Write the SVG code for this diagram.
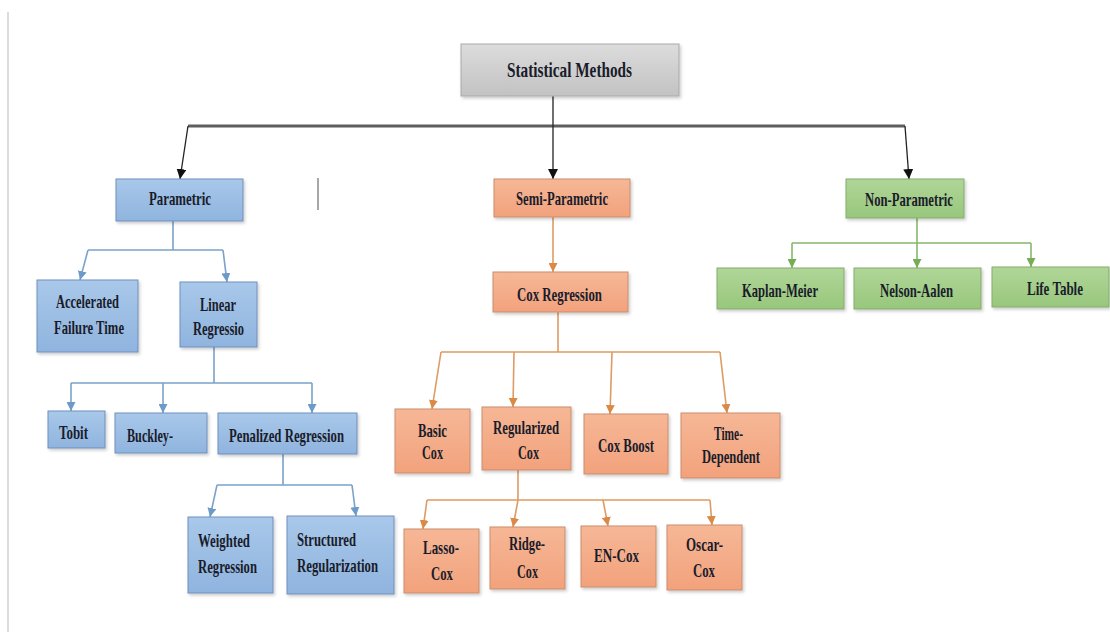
<svg xmlns="http://www.w3.org/2000/svg" width="1110" height="632" viewBox="0 0 1110 632">
<style>
.t{font-family:"Liberation Serif","Times New Roman",serif;font-weight:bold;font-size:19px;fill:#1a1c2b;text-anchor:middle}
.gy{fill:url(#gGray);stroke:#a9a9a9;stroke-width:1}
.bl{fill:url(#gBlue);stroke:#6f8fbd;stroke-width:1}
.or{fill:url(#gOrange);stroke:#c98d6c;stroke-width:1}
.gr{fill:url(#gGreen);stroke:#85ab6c;stroke-width:1}
.box{filter:url(#sh)}
.cb{fill:none;stroke:#7aa2ca;stroke-width:1.6}
.co{fill:none;stroke:#de9b63;stroke-width:1.6}
.cg{fill:none;stroke:#86b86a;stroke-width:1.6}
.ck{fill:none;stroke:#222;stroke-width:1.3}
</style>
<defs>
<linearGradient id="gGray" x1="0" y1="0" x2="0" y2="1"><stop offset="0" stop-color="#dcdcdc"/><stop offset="1" stop-color="#c2c2c2"/></linearGradient>
<linearGradient id="gBlue" x1="0" y1="0" x2="0" y2="1"><stop offset="0" stop-color="#a9c8ea"/><stop offset="1" stop-color="#8fb4de"/></linearGradient>
<linearGradient id="gOrange" x1="0" y1="0" x2="0" y2="1"><stop offset="0" stop-color="#f6b796"/><stop offset="1" stop-color="#f2a27c"/></linearGradient>
<linearGradient id="gGreen" x1="0" y1="0" x2="0" y2="1"><stop offset="0" stop-color="#b0d698"/><stop offset="1" stop-color="#98c77c"/></linearGradient>
<filter id="sh" x="-10%" y="-10%" width="130%" height="140%"><feDropShadow dx="1.5" dy="2" stdDeviation="1.5" flood-color="#000" flood-opacity="0.2"/></filter>
<marker id="aK" viewBox="0 0 10 10" refX="10" refY="5" markerWidth="10" markerHeight="10" markerUnits="userSpaceOnUse" orient="auto"><path d="M0,0 L10,5 L0,10 z" fill="#111"/></marker>
<marker id="aB" viewBox="0 0 10 10" refX="10" refY="5" markerWidth="9" markerHeight="9" markerUnits="userSpaceOnUse" orient="auto"><path d="M0,0 L10,5 L0,10 z" fill="#6d9bc9"/></marker>
<marker id="aO" viewBox="0 0 10 10" refX="10" refY="5" markerWidth="9" markerHeight="9" markerUnits="userSpaceOnUse" orient="auto"><path d="M0,0 L10,5 L0,10 z" fill="#db8a45"/></marker>
<marker id="aG" viewBox="0 0 10 10" refX="10" refY="5" markerWidth="9" markerHeight="9" markerUnits="userSpaceOnUse" orient="auto"><path d="M0,0 L10,5 L0,10 z" fill="#74ad52"/></marker>
</defs>
<rect width="1110" height="632" fill="#ffffff"/>
<line x1="8" y1="12" x2="8" y2="632" stroke="#cfcfcf" stroke-width="1.5"/>
<line x1="318" y1="178" x2="318" y2="210" stroke="#8a8a8a" stroke-width="1.5"/>

<g id="connectors">
<path d="M188,126 H905" fill="none" stroke="#5e5e5e" stroke-width="3"/>
<path class="ck" d="M553,96 V179" marker-end="url(#aK)"/>
<path class="ck" d="M188,126 L180,179" marker-end="url(#aK)"/>
<path class="ck" d="M905,126 L909,179" marker-end="url(#aK)"/>

<path class="cb" d="M173,221 V250 M88,250 H223"/>
<path class="cb" d="M88,250 L80,280" marker-end="url(#aB)"/>
<path class="cb" d="M223,250 L227,282" marker-end="url(#aB)"/>
<path class="cb" d="M214,347 V383 M71,383 H312"/>
<path class="cb" d="M71,383 V411" marker-end="url(#aB)"/>
<path class="cb" d="M163,383 V413" marker-end="url(#aB)"/>
<path class="cb" d="M312,383 V413" marker-end="url(#aB)"/>
<path class="cb" d="M283,454 V485 M217,485 H352"/>
<path class="cb" d="M217,485 L210,517" marker-end="url(#aB)"/>
<path class="cb" d="M352,485 L356,516" marker-end="url(#aB)"/>

<path class="co" d="M553,217 V272" marker-end="url(#aO)"/>
<path class="co" d="M558,312 V352 M441,352 H720"/>
<path class="co" d="M441,352 L432,409" marker-end="url(#aO)"/>
<path class="co" d="M514,352 L513,407" marker-end="url(#aO)"/>
<path class="co" d="M612,352 L610,414" marker-end="url(#aO)"/>
<path class="co" d="M720,352 L727,413" marker-end="url(#aO)"/>
<path class="co" d="M518,470 V500 M427,500 H710"/>
<path class="co" d="M427,500 L423,529" marker-end="url(#aO)"/>
<path class="co" d="M518,500 L513,527" marker-end="url(#aO)"/>
<path class="co" d="M603,500 L608,526" marker-end="url(#aO)"/>
<path class="co" d="M710,500 L712,525" marker-end="url(#aO)"/>

<path class="cg" d="M917,218 V243 M792,243 H1031"/>
<path class="cg" d="M792,243 V268" marker-end="url(#aG)"/>
<path class="cg" d="M917,243 V268" marker-end="url(#aG)"/>
<path class="cg" d="M1031,243 V267" marker-end="url(#aG)"/>
</g>

<g id="statistical-methods"><rect class="gy box" x="461" y="44" width="218" height="52"/><text class="t" x="569.5" y="77" style="font-size:22px" textLength="125" lengthAdjust="spacingAndGlyphs">Statistical Methods</text></g>

<g id="parametric"><rect class="bl box" x="116" y="179" width="127" height="42"/><text class="t" x="180" y="205" textLength="62" lengthAdjust="spacingAndGlyphs">Parametric</text></g>
<g id="semi-parametric"><rect class="or box" x="494" y="179" width="136" height="38"/><text class="t" x="562" y="205" textLength="92" lengthAdjust="spacingAndGlyphs">Semi-Parametric</text></g>
<g id="non-parametric"><rect class="gr box" x="846" y="179" width="118" height="39"/><text class="t" x="909" y="206" textLength="88" lengthAdjust="spacingAndGlyphs">Non-Parametric</text></g>

<g id="kaplan-meier"><rect class="gr box" x="717" y="268" width="127" height="41"/><text class="t" x="780" y="297" textLength="76" lengthAdjust="spacingAndGlyphs">Kaplan-Meier</text></g>
<g id="nelson-aalen"><rect class="gr box" x="854" y="268" width="127" height="41"/><text class="t" x="916.5" y="297" textLength="73" lengthAdjust="spacingAndGlyphs">Nelson-Aalen</text></g>
<g id="life-table"><rect class="gr box" x="992" y="267" width="117" height="40"/><text class="t" x="1055" y="295" textLength="56" lengthAdjust="spacingAndGlyphs">Life Table</text></g>

<g id="cox-regression"><rect class="or box" x="493" y="272" width="135" height="40"/><text class="t" x="559.5" y="301" textLength="85" lengthAdjust="spacingAndGlyphs">Cox Regression</text></g>

<g id="aft"><rect class="bl box" x="37" y="280" width="101" height="72"/><text class="t" x="87.5" y="308" textLength="63" lengthAdjust="spacingAndGlyphs">Accelerated</text><text class="t" x="89" y="334" textLength="70" lengthAdjust="spacingAndGlyphs">Failure Time</text></g>
<g id="linear-regression"><rect class="bl box" x="180" y="282" width="77" height="65"/><text class="t" x="218" y="311" textLength="36" lengthAdjust="spacingAndGlyphs">Linear</text><text class="t" x="218.5" y="335" textLength="51" lengthAdjust="spacingAndGlyphs">Regressio</text></g>

<g id="tobit"><rect class="bl box" x="48" y="411" width="57" height="37"/><text class="t" x="73.5" y="439" textLength="29" lengthAdjust="spacingAndGlyphs">Tobit</text></g>
<g id="buckley"><rect class="bl box" x="115" y="413" width="92" height="40"/><text class="t" x="150" y="442" textLength="46" lengthAdjust="spacingAndGlyphs">Buckley-</text></g>
<g id="penalized-regression"><rect class="bl box" x="218" y="413" width="139" height="41"/><text class="t" x="286.5" y="442" textLength="115" lengthAdjust="spacingAndGlyphs">Penalized Regression</text></g>

<g id="weighted-regression"><rect class="bl box" x="188" y="517" width="85" height="76"/><text class="t" x="224" y="547" textLength="52" lengthAdjust="spacingAndGlyphs">Weighted</text><text class="t" x="227.5" y="573" textLength="59" lengthAdjust="spacingAndGlyphs">Regression</text></g>
<g id="structured-regularization"><rect class="bl box" x="287" y="516" width="107" height="78"/><text class="t" x="326.5" y="546" textLength="59" lengthAdjust="spacingAndGlyphs">Structured</text><text class="t" x="337.5" y="572" textLength="81" lengthAdjust="spacingAndGlyphs">Regularization</text></g>

<g id="basic-cox"><rect class="or box" x="395" y="409" width="75" height="64"/><text class="t" x="432.5" y="437" textLength="29" lengthAdjust="spacingAndGlyphs">Basic</text><text class="t" x="432.5" y="459" textLength="21" lengthAdjust="spacingAndGlyphs">Cox</text></g>
<g id="regularized-cox"><rect class="or box" x="482" y="407" width="89" height="63"/><text class="t" x="526" y="434" textLength="66" lengthAdjust="spacingAndGlyphs">Regularized</text><text class="t" x="528.5" y="459" textLength="21" lengthAdjust="spacingAndGlyphs">Cox</text></g>
<g id="cox-boost"><rect class="or box" x="584" y="414" width="84" height="60"/><text class="t" x="626" y="452" textLength="56" lengthAdjust="spacingAndGlyphs">Cox Boost</text></g>
<g id="time-dependent"><rect class="or box" x="681" y="413" width="99" height="65"/><text class="t" x="728.5" y="440" textLength="29" lengthAdjust="spacingAndGlyphs">Time-</text><text class="t" x="731" y="463" textLength="58" lengthAdjust="spacingAndGlyphs">Dependent</text></g>

<g id="lasso-cox"><rect class="or box" x="404" y="529" width="75" height="64"/><text class="t" x="441" y="554" textLength="36" lengthAdjust="spacingAndGlyphs">Lasso-</text><text class="t" x="442" y="580" textLength="22" lengthAdjust="spacingAndGlyphs">Cox</text></g>
<g id="ridge-cox"><rect class="or box" x="490" y="527" width="75" height="62"/><text class="t" x="527" y="550" textLength="36" lengthAdjust="spacingAndGlyphs">Ridge-</text><text class="t" x="527.5" y="578" textLength="21" lengthAdjust="spacingAndGlyphs">Cox</text></g>
<g id="en-cox"><rect class="or box" x="581" y="526" width="75" height="61"/><text class="t" x="616.5" y="562" textLength="45" lengthAdjust="spacingAndGlyphs">EN-Cox</text></g>
<g id="oscar-cox"><rect class="or box" x="667" y="525" width="75" height="65"/><text class="t" x="704.5" y="551" textLength="37" lengthAdjust="spacingAndGlyphs">Oscar-</text><text class="t" x="704" y="577" textLength="22" lengthAdjust="spacingAndGlyphs">Cox</text></g>
</svg>
